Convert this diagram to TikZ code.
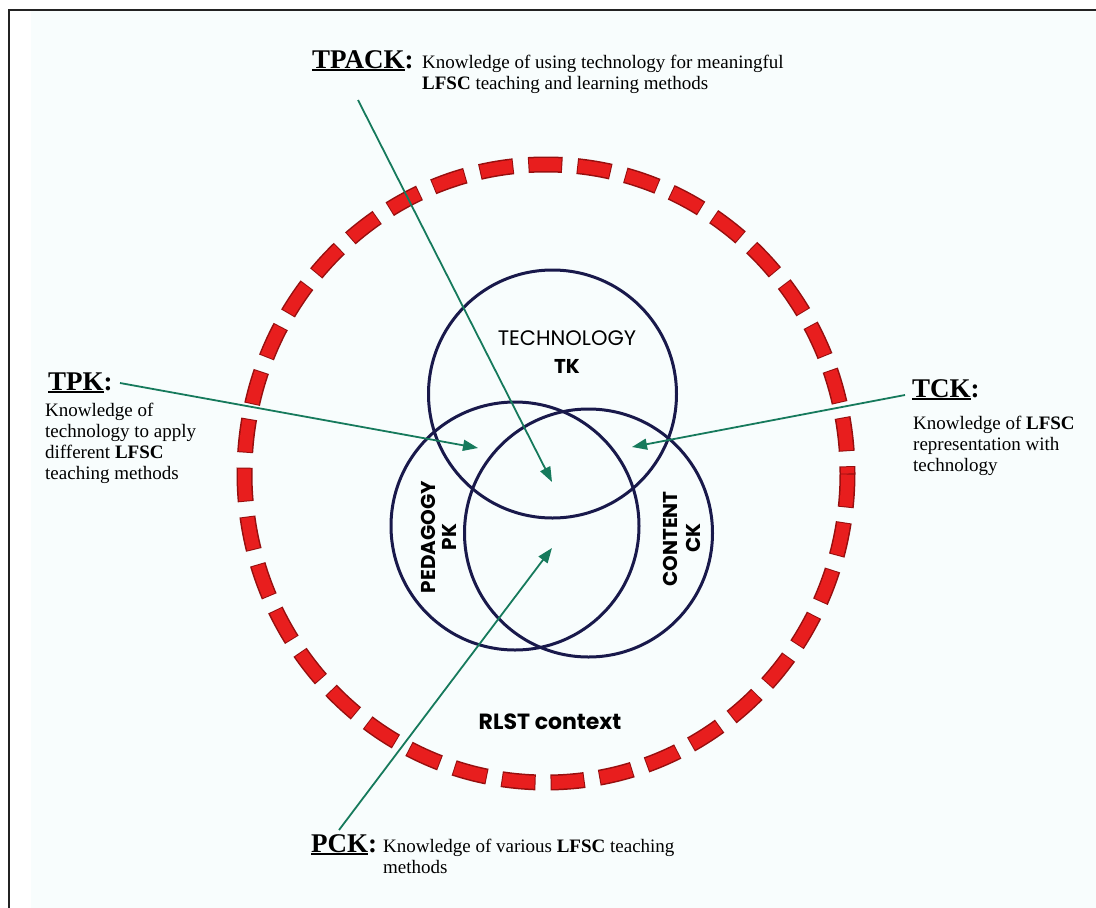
\documentclass[tikz,border=0pt]{standalone}
\usepackage{fontspec}
\setmainfont{Liberation Serif}
\newfontfamily\gothic{Poppins}
\usetikzlibrary{arrows.meta}

\definecolor{pagebg}{RGB}{248,253,253}
\definecolor{framecol}{RGB}{35,35,35}
\definecolor{ringred}{RGB}{232,30,30}
\definecolor{ringedge}{RGB}{150,15,15}
\definecolor{venn}{RGB}{25,25,75}
\definecolor{pointer}{RGB}{22,122,92}

% bold heading with a heavy underline under the word only
\newcommand\headul[1]{\setbox0\hbox{#1}\rlap{\rule[-3.2pt]{\wd0}{2pt}}\box0}

\tikzset{
  heading/.style={anchor=base west, inner sep=0pt, font=\fontsize{27}{30}\selectfont\bfseries},
  % multi-line text: the base anchor sits on the last line
  body/.style={anchor=base west, inner sep=0pt, align=left, font=\fontsize{19}{21}\selectfont},
  vennring/.style={draw=venn, line width=3pt, circle, inner sep=0pt, minimum size=248pt},
  vennname/.style={inner sep=0pt, font=\gothic\fontsize{21}{24}\selectfont},
  vennabbr/.style={inner sep=0pt, font=\gothic\bfseries\fontsize{20}{24}\selectfont},
  pointerline/.style={draw=pointer, line width=1.8pt, -{Triangle[length=15pt,width=11pt]}},
}

\begin{document}
\begin{tikzpicture}[x=1pt,y=-1pt]
\useasboundingbox (0,0) rectangle (1096,908);
\fill[white] (0,0) rectangle (1096,908);
\fill[pagebg] (31,11) rectangle (1096,908);
\draw[framecol, line width=2.5pt] (9,908) -- (9,10) -- (1096,10);

% dashed context ring
\draw[ringedge, line width=16pt, dash pattern=on 34pt off 15pt]
  (546,473.5) ellipse [x radius=301.5, y radius=309];
\draw[ringred, line width=13pt, dash pattern=on 32pt off 17pt, dash phase=-1pt]
  (546,473.5) ellipse [x radius=301.5, y radius=309];

% three knowledge circles
\node[vennring] (tech) at (552.5,394) {};
\node[vennring] (ped)  at (515,526) {};
\node[vennring] (cont) at (588.5,533) {};

\node[vennname] (techname) at (567,338) {TECHNOLOGY};
\node[vennabbr] (techabbr) at (567,366) {TK};
\node[vennabbr, rotate=90] (pedname) at (428,537) {PEDAGOGY};
\node[vennabbr, rotate=90] (pedabbr) at (449,537) {PK};
\node[vennabbr, rotate=90] (contname) at (670.5,539) {CONTENT};
\node[vennabbr, rotate=90] (contabbr) at (693.5,538) {CK};
\node[vennabbr, font=\gothic\bfseries\fontsize{22}{26}\selectfont] (context) at (550,722) {RLST context};

% labels
\node[heading] (tpackh) at (312,68) {\headul{TPACK}:};
\node[body] (tpackb) at (422,89) {Knowledge of using technology for meaningful\\
  \textbf{LFSC} teaching and learning methods};

\node[heading] (tpkh) at (48,390) {\headul{TPK}:};
\node[body] (tpkb) at (45,479) {Knowledge of\\ technology to apply\\ different \textbf{LFSC}\\ teaching methods};

\node[heading] (tckh) at (912,397) {\headul{TCK}:};
\node[body] (tckb) at (913,471) {Knowledge of \textbf{LFSC}\\ representation with\\ technology};

\node[heading] (pckh) at (311,852) {\headul{PCK}:};
\node[body] (pckb) at (383,873) {Knowledge of various \textbf{LFSC} teaching\\ methods};

% pointers into the overlap regions
\coordinate (tpackfrom) at (358,100);
\coordinate (tpackto) at (552,482);
\coordinate (tpkfrom) at (120,383);
\coordinate (tpkto) at (478,448);
\coordinate (tckfrom) at (905,395);
\coordinate (tckto) at (632,447);
\coordinate (pckfrom) at (339,830);
\coordinate (pckto) at (552,548);
\draw[pointerline] (tpackfrom) -- (tpackto);
\draw[pointerline] (tpkfrom) -- (tpkto);
\draw[pointerline] (tckfrom) -- (tckto);
\draw[pointerline] (pckfrom) -- (pckto);
\end{tikzpicture}
\end{document}
